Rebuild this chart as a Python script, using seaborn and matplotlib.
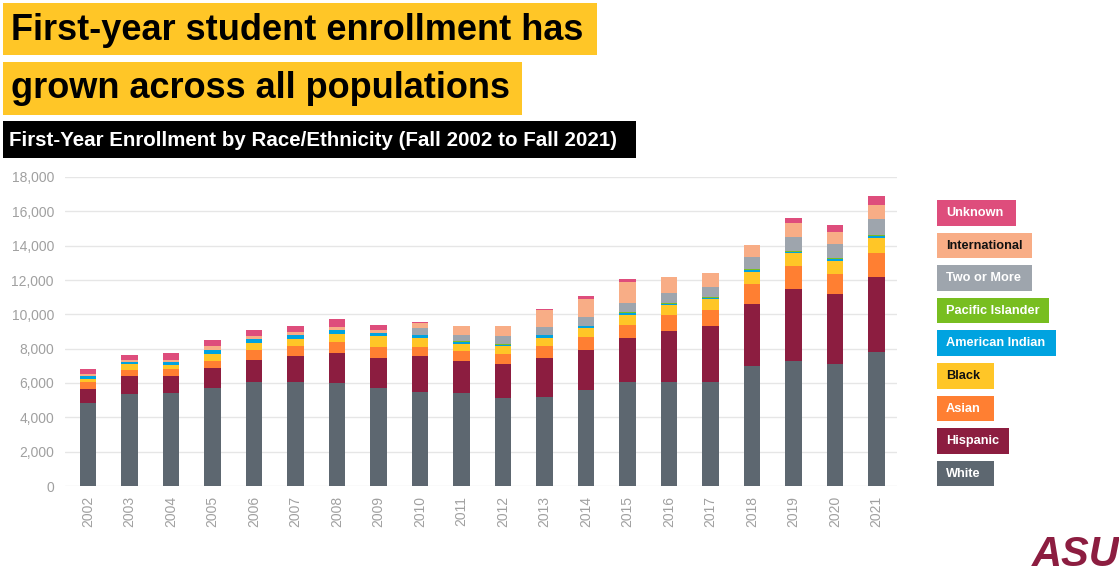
import matplotlib
matplotlib.use('Agg')
import matplotlib.pyplot as plt
import seaborn as sns
import pandas as pd
from matplotlib.patches import Rectangle
from matplotlib.ticker import FuncFormatter

# ---------------- data ----------------
years = list(range(2002, 2022))
white = [4850, 5350, 5400, 5730, 6030, 6030, 5990, 5700, 5460, 5400,
         5110, 5200, 5600, 6080, 6030, 6080, 7000, 7290, 7100, 7800]
hispanic = [790, 1030, 1010, 1130, 1330, 1520, 1760, 1750, 2090, 1890,
            1990, 2250, 2340, 2540, 3020, 3220, 3630, 4210, 4110, 4370]
asian = [420, 390, 390, 450, 540, 590, 620, 640, 550, 550,
         600, 680, 740, 780, 900, 980, 1150, 1310, 1150, 1380]
black = [180, 310, 250, 390, 430, 430, 470, 620, 520, 410,
         430, 520, 530, 550, 570, 590, 680, 740, 740, 880]
american_indian = [150, 160, 180, 230, 230, 230, 230, 200, 150, 130,
                   100, 120, 100, 120, 110, 110, 130, 110, 100, 140]
pacific_islander = [0, 0, 0, 0, 0, 0, 0, 0, 30, 40,
                    40, 40, 30, 50, 50, 50, 60, 50, 60, 50]
two_or_more = [0, 0, 0, 0, 0, 0, 0, 0, 390, 390,
               450, 450, 510, 550, 580, 570, 680, 820, 820, 960]
international = [130, 120, 120, 200, 150, 150, 200, 190, 330, 490,
                 590, 1010, 1050, 1210, 930, 780, 700, 780, 740, 780]
unknown = [300, 290, 390, 350, 350, 350, 470, 250, 30, 0,
           0, 30, 190, 150, 0, 0, 0, 330, 390, 510]

groups = ["Unknown", "International", "Two or More", "Pacific Islander",
          "American Indian", "Black", "Asian", "Hispanic", "White"]
series = [unknown, international, two_or_more, pacific_islander,
          american_indian, black, asian, hispanic, white]
colors = ["#DE4D7C", "#F8AD86", "#9EA5AD", "#78BE20",
          "#00A3E0", "#FFC627", "#FF7F32", "#8C1D40", "#5D6770"]
text_colors = ["white", "#111111", "white", "white",
               "white", "#111111", "white", "white", "white"]

title1 = "First-year student enrollment has"
title2 = "grown across all populations"
subtitle = "First-Year Enrollment by Race/Ethnicity (Fall 2002 to Fall 2021)"

rows = []
for g, vals in zip(groups, series):
    for y, v in zip(years, vals):
        rows.append({"year": y, "group": g, "value": v})
df = pd.DataFrame(rows)

# ---------------- figure ----------------
W, H = 1119, 575
sns.set_theme(style="white")
plt.rcParams['font.family'] = ['Liberation Sans', 'DejaVu Sans']
fig = plt.figure(figsize=(W / 100, H / 100), dpi=100)
fig.patch.set_facecolor("white")

ax = fig.add_axes([65 / W, (H - 486) / H, (897 - 65) / W, (486 - 177) / H])

sns.histplot(data=df, x="year", hue="group", weights="value",
             multiple="stack", discrete=True, shrink=0.4,
             hue_order=groups, palette=dict(zip(groups, colors)),
             edgecolor="none", linewidth=0, alpha=1, legend=False, ax=ax)

ax.set_xlim(2001.446, 2021.49)
ax.set_ylim(0, 18000)
ax.set_yticks(range(0, 18001, 2000))
ax.yaxis.set_major_formatter(FuncFormatter(lambda v, p: f"{int(v):,}"))
ax.set_xticks(years)
ax.set_xticklabels([str(y) for y in years], rotation=90)
ax.tick_params(axis="both", length=0, colors="#a0a0a0", labelsize=10)
ax.tick_params(axis="y", pad=8)
ax.tick_params(axis="x", pad=7)
ax.yaxis.grid(True, color="#e6e6e6", linewidth=1)
ax.xaxis.grid(False)
ax.set_axisbelow(True)
for s in ax.spines.values():
    s.set_visible(False)
ax.set_xlabel("")
ax.set_ylabel("")


def fig_rect(x0, y0, x1, y1, color):
    fig.add_artist(Rectangle((x0 / W, 1 - y1 / H), (x1 - x0) / W, (y1 - y0) / H,
                             transform=fig.transFigure, facecolor=color,
                             edgecolor="none", zorder=0))


# titles
fig_rect(3, 3, 597, 55, "#FFC627")
fig_rect(3, 62, 522, 115, "#FFC627")
fig_rect(3, 121, 636, 158, "#000000")
fig.text(11 / W, 1 - 30 / H, title1, fontsize=26, weight="bold",
         color="black", va="center", ha="left")
fig.text(11 / W, 1 - 89 / H, title2, fontsize=26, weight="bold",
         color="black", va="center", ha="left")
fig.text(9 / W, 1 - 140 / H, subtitle, fontsize=14.8, weight="bold",
         color="white", va="center", ha="left")

# legend boxes
box_right = [1016, 1032, 1032, 1049, 1056, 994, 994, 1009, 994]
top0 = 200
for i, (g, c, tc) in enumerate(zip(groups, colors, text_colors)):
    y0 = top0 + i * 32.6
    fig_rect(937, y0, box_right[i], y0 + 25.5, c)
    fig.text(946 / W, 1 - (y0 + 13) / H, g, fontsize=9.2, weight="bold",
             color=tc, va="center", ha="left")

# ASU mark
fig.text(1076 / W, 1 - 555 / H, "ASU", fontsize=30, weight="heavy",
         style="italic", color="#8C1D40", ha="center", va="center")

fig.savefig("out.png", dpi=100)
